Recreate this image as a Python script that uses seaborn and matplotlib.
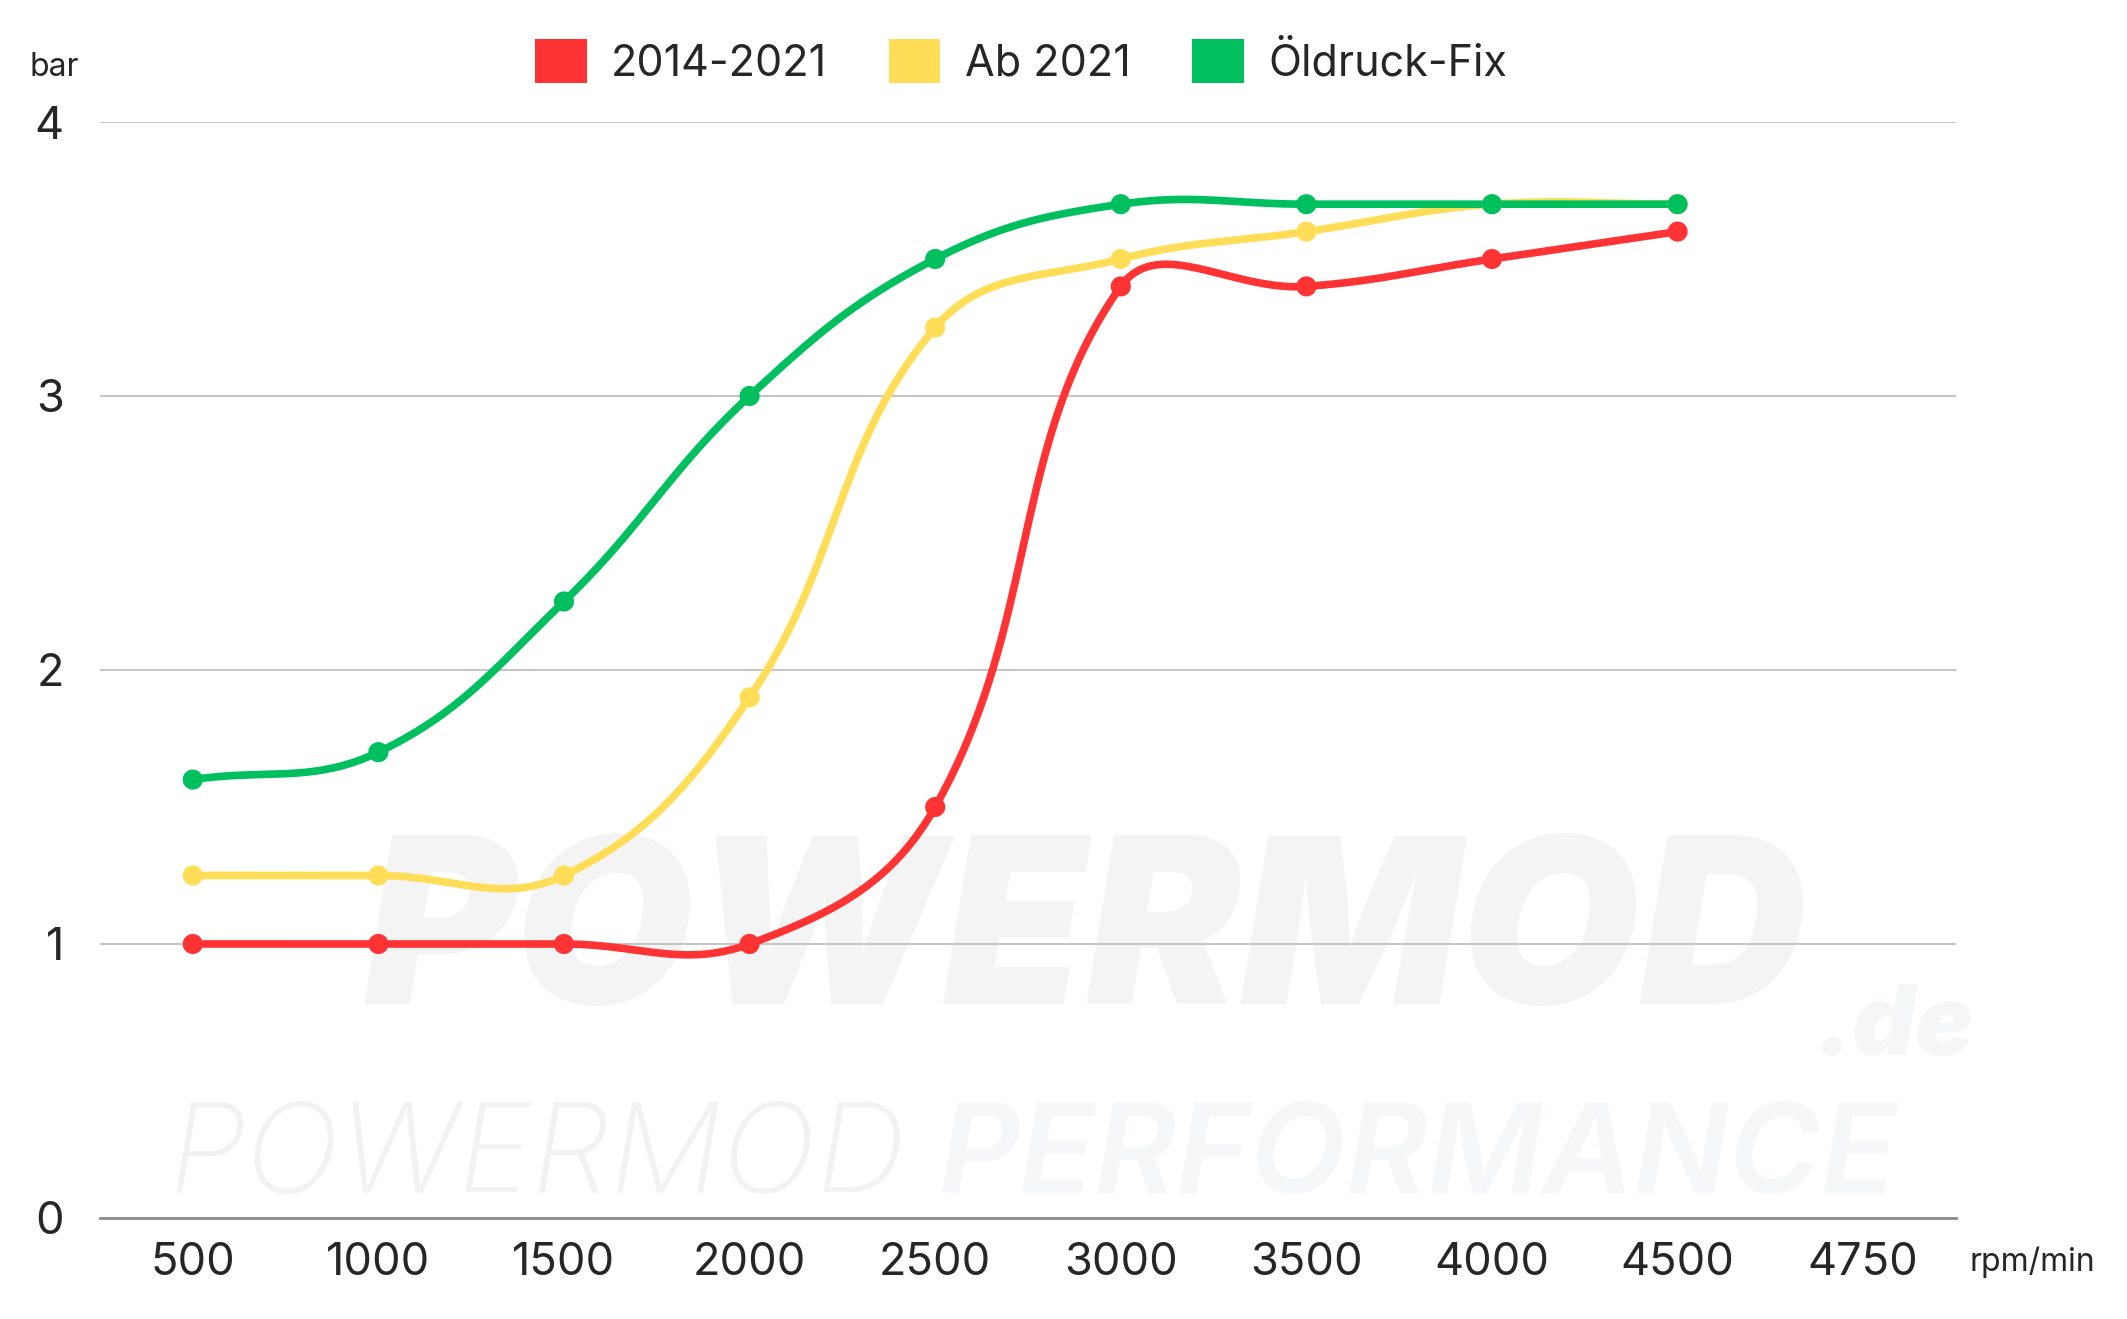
import numpy as np
import pandas as pd
import matplotlib.pyplot as plt
import seaborn as sns

rpm = ['500', '1000', '1500', '2000', '2500', '3000', '3500', '4000', '4500', '4750']
series_names = ['2014-2021', 'Ab 2021', 'Öldruck-Fix']
red_vals = [1.0, 1.0, 1.0, 1.0, 1.5, 3.4, 3.4, 3.5, 3.6]
yellow_vals = [1.25, 1.25, 1.25, 1.9, 3.25, 3.5, 3.6, 3.7, 3.7]
green_vals = [1.6, 1.7, 2.25, 3.0, 3.5, 3.7, 3.7, 3.7, 3.7]
colors = ['#FF3333', '#FFDD57', '#00BF5F']


def spline(ys, tension=0.4, xs_scale=186.0, ys_scale=274.0, n=40):
    # bezier smoothing similar to chart.js cubic interpolation
    xs = np.arange(len(ys), dtype=float)
    ys = np.asarray(ys, dtype=float)
    px, py = xs * xs_scale, ys * ys_scale
    cps = []
    for i in range(len(ys)):
        p0 = (px[max(i - 1, 0)], py[max(i - 1, 0)])
        p2 = (px[min(i + 1, len(ys) - 1)], py[min(i + 1, len(ys) - 1)])
        p1 = (px[i], py[i])
        d01 = np.hypot(p1[0] - p0[0], p1[1] - p0[1])
        d12 = np.hypot(p2[0] - p1[0], p2[1] - p1[1])
        tot = d01 + d12 if d01 + d12 > 0 else 1
        fa, fb = tension * d01 / tot, tension * d12 / tot
        prev_cp = (p1[0] - fa * (p2[0] - p0[0]), p1[1] - fa * (p2[1] - p0[1]))
        next_cp = (p1[0] + fb * (p2[0] - p0[0]), p1[1] + fb * (p2[1] - p0[1]))
        cps.append((prev_cp, next_cp))
    out_x, out_y = [], []
    t = np.linspace(0, 1, n)
    for i in range(len(ys) - 1):
        a = np.array([px[i], py[i]])
        b = np.array(cps[i][1])
        c = np.array(cps[i + 1][0])
        d = np.array([px[i + 1], py[i + 1]])
        pts = ((1 - t) ** 3)[:, None] * a + (3 * (1 - t) ** 2 * t)[:, None] * b \
            + (3 * (1 - t) * t ** 2)[:, None] * c + (t ** 3)[:, None] * d
        out_x.extend(pts[:, 0] / xs_scale)
        out_y.extend(pts[:, 1] / ys_scale)
    return np.array(out_x), np.array(out_y)


sns.set_style('white')
plt.rcParams['font.family'] = ['Inter', 'DejaVu Sans']

fig = plt.figure(figsize=(21.27, 13.19), dpi=100)
ax = fig.add_axes([0.047, 0.0766, 0.8726, 0.8309])

# faint watermark
ax.text(0.531, 0.25, 'POWERMOD', transform=ax.transAxes, fontsize=166, fontweight='black',
        fontstyle='italic', color='#F4F4F5', ha='center', va='center', zorder=0)
ax.text(0.925, 0.172, '.de', transform=ax.transAxes, fontsize=70, fontweight='black',
        fontstyle='italic', color='#F5F6F8', ha='left', va='center', zorder=0)
ax.text(0.434, 0.053, 'POWERMOD', transform=ax.transAxes, fontsize=90, fontweight='light',
        fontstyle='italic', color='#F2F2F2', ha='right', va='center', zorder=0)
ax.text(0.452, 0.053, 'PERFORMANCE', transform=ax.transAxes, fontsize=90, fontweight='semibold',
        fontstyle='italic', color='#F6F7F9', ha='left', va='center', zorder=0)

for name, vals, col in zip(series_names, [red_vals, yellow_vals, green_vals], colors):
    sx, sy = spline(vals)
    df_line = pd.DataFrame({'x': sx, 'y': sy})
    sns.lineplot(data=df_line, x='x', y='y', ax=ax, color=col, linewidth=5.5,
                 sort=False, estimator=None, zorder=3)
    df_pts = pd.DataFrame({'x': np.arange(len(vals)), 'y': vals})
    sns.scatterplot(data=df_pts, x='x', y='y', ax=ax, color=col, s=210,
                    edgecolor='none', zorder=4)

ax.set_xlim(-0.5, len(rpm) - 0.5)
ax.set_ylim(0, 4)
ax.set_xticks(range(len(rpm)))
ax.set_xticklabels(rpm)
ax.set_yticks([0, 1, 2, 3, 4])
ax.set_xlabel('')
ax.set_ylabel('')
ax.tick_params(axis='x', labelsize=32.5, pad=17, length=0)
ax.tick_params(axis='y', labelsize=32.5, pad=26, length=0)
ax.yaxis.grid(True, color='#C4C4C4', linewidth=1.4)
ax.xaxis.grid(False)
for s in ['top', 'right', 'left']:
    ax.spines[s].set_visible(False)
ax.spines['bottom'].set_color('#8C8C8C')
ax.spines['bottom'].set_linewidth(2)

fig.text(0.0255, 0.949, 'bar', fontsize=23, ha='center', va='center')
fig.text(0.926, 0.0432, 'rpm/min', fontsize=23, ha='left', va='center')

handles = [plt.Rectangle((0, 0), 1, 1, facecolor=c, edgecolor='none') for c in colors]
fig.legend(handles, series_names, loc='center', bbox_to_anchor=(0.480, 0.953), ncol=3,
           frameon=False, fontsize=31, handlelength=1.2, handleheight=1.2,
           handletextpad=0.56, columnspacing=1.44)

fig.savefig('out.png', dpi=100)
